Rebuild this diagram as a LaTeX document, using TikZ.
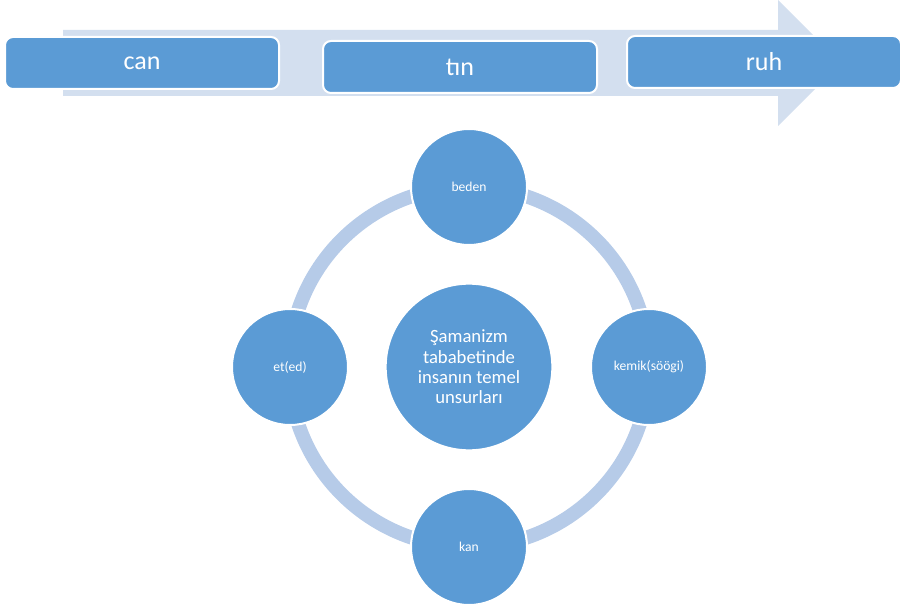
\documentclass[tikz,border=0pt]{standalone}
\usepackage{fontspec}
\setmainfont{Carlito}
\definecolor{boxblue}{HTML}{5B9BD5}
\definecolor{arrowpale}{HTML}{D3DFEF}
\definecolor{ringpale}{HTML}{B6CBE8}
\tikzset{every node/.style={text=white},
  stage/.style={draw=white,line width=1.5pt,fill=boxblue,rounded corners=6pt,minimum width=205.5pt,minimum height=39pt,font=\fontsize{19.5}{21}\selectfont},
  part/.style={circle,draw=white,line width=1.5pt,fill=boxblue,minimum size=87pt,inner sep=0pt,font=\fontsize{10.2}{12}\selectfont},
  hub/.style={part,minimum size=125pt,align=center,font=\fontsize{14}{15.2}\selectfont},
  ring/.style={draw=ringpale,line width=10.5pt}}

\begin{document}
\begin{tikzpicture}[x=0.75pt,y=-0.75pt]
\useasboundingbox (0,0) rectangle (902,609);
% process arrow
\fill[arrowpale] (63,30)--(778,30)--(778,0)--(841,63)--(778,126)--(778,96)--(63,96)--cycle;
\node[stage] (can) at (142,63) {can};
\node[stage] (tin) at (460,67) {tın};
\node[stage] (ruh) at (764,62) {ruh};
% cycle
\coordinate (mid) at (469,367);
\draw[ring] (mid) circle[radius=180];
\node[hub] (core) at (mid) {Şamanizm\\tababetinde\\insanın temel\\unsurları};
\node[part] (beden) at (469,187) {beden};
\node[part] (kemik) at (649,367) {kemik(söögi)};
\node[part] (kan) at (469,547) {kan};
\node[part] (et) at (290,367) {et(ed)};
\end{tikzpicture}
\end{document}
